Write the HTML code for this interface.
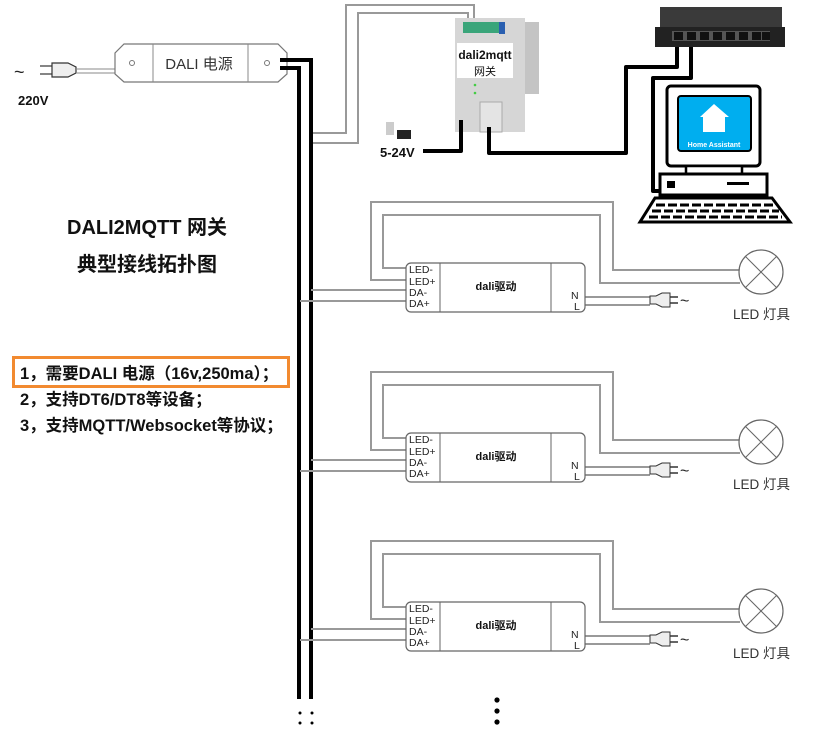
<!DOCTYPE html>
<html><head><meta charset="utf-8"><style>
html,body{margin:0;padding:0;background:#fff;}
svg{display:block;}
text{font-family:"Liberation Sans","Noto Sans CJK SC",sans-serif;}
</style></head><body>
<svg width="815" height="754" viewBox="0 0 815 754" xmlns="http://www.w3.org/2000/svg">
<rect width="815" height="754" fill="#fff"/>
<!-- DALI power supply -->
<text x="14" y="78" font-size="18" fill="#222">~</text>
<g stroke="#333" stroke-width="1.2" fill="#fff">
<line x1="40" y1="66" x2="52" y2="66"/><line x1="40" y1="74" x2="52" y2="74"/>
<path d="M52 63 L68 63 L76 67 L76 73 L68 77 L52 77 Z" fill="#eee"/>
</g>
<line x1="76" y1="69" x2="116" y2="69" stroke="#888" stroke-width="1"/>
<line x1="76" y1="73" x2="116" y2="73" stroke="#888" stroke-width="1"/>
<text x="18" y="105" font-size="13" font-weight="bold" fill="#111">220V</text>
<path d="M124 44 L278 44 L287 53 L287 74 L278 82 L124 82 L115 74 L115 53 Z" fill="#fff" stroke="#777" stroke-width="1.2"/>
<line x1="153" y1="44" x2="153" y2="82" stroke="#888"/>
<line x1="248" y1="44" x2="248" y2="82" stroke="#888"/>
<circle cx="132" cy="63" r="2.5" fill="none" stroke="#777"/>
<circle cx="267" cy="63" r="2.5" fill="none" stroke="#777"/>
<text x="199" y="69" font-size="15" fill="#333" text-anchor="middle">DALI 电源</text>
<!-- bus -->
<path d="M280 60 L311 60 L311 699" fill="none" stroke="#000" stroke-width="4"/>
<path d="M280 68 L299 68 L299 699" fill="none" stroke="#000" stroke-width="4"/>
<g fill="#000"><circle cx="300" cy="713" r="1.5"/><circle cx="300" cy="723" r="1.5"/><circle cx="312" cy="713" r="1.5"/><circle cx="312" cy="723" r="1.5"/>
<circle cx="497" cy="700" r="2.6"/><circle cx="497" cy="711" r="2.6"/><circle cx="497" cy="722" r="2.6"/></g>
<!-- gray lines to gateway -->
<g fill="none" stroke="#999" stroke-width="2">
<path d="M313 133 L346 133 L346 5 L474 5 L474 22"/>
<path d="M313 143 L358 143 L358 13 L468 13 L468 22"/>
</g>
<!-- gateway -->
<rect x="455" y="18" width="70" height="114" fill="#d6d6d6"/>
<rect x="525" y="22" width="14" height="72" fill="#c4c4c4"/>
<rect x="463" y="22" width="36" height="11" fill="#3aa57a"/>
<rect x="499" y="22" width="6" height="12" fill="#2a5fb0"/>
<rect x="457" y="43" width="56" height="35" fill="#fff"/>
<text x="485" y="59" font-size="12" font-weight="bold" text-anchor="middle" fill="#111">dali2mqtt</text>
<text x="485" y="75" font-size="11" text-anchor="middle" fill="#111">网关</text>
<circle cx="475" cy="85" r="1.3" fill="#4c4"/><circle cx="475" cy="93" r="1.3" fill="#4c4"/>
<rect x="480" y="102" width="22" height="30" fill="#e4e4e4" stroke="#aaa"/>
<!-- adapter -->
<rect x="386" y="122" width="8" height="13" fill="#ccc"/>
<rect x="397" y="130" width="14" height="9" fill="#222"/>
<text x="380" y="157" font-size="13" font-weight="bold" fill="#111">5-24V</text>
<!-- black wires -->
<g fill="none" stroke="#000" stroke-width="4" stroke-linejoin="round">
<path d="M461 120 L461 151 L423 151"/>
<path d="M489 127 L489 153 L626 153 L626 67 L677 67 L677 35"/>
<path d="M691 35 L691 78 L653 78 L653 191 L665 191"/>
</g>
<!-- switch -->
<rect x="660" y="7" width="122" height="20" fill="#3a3a3a"/>
<rect x="655" y="27" width="130" height="20" fill="#222"/>
<rect x="672" y="31" width="98" height="10" fill="#555"/>
<g fill="#111"><rect x="674" y="32" width="9" height="8"/><rect x="687" y="32" width="9" height="8"/><rect x="700" y="32" width="9" height="8"/><rect x="713" y="32" width="9" height="8"/><rect x="726" y="32" width="9" height="8"/><rect x="739" y="32" width="9" height="8"/><rect x="752" y="32" width="9" height="8"/><rect x="762" y="32" width="8" height="8"/></g>
<!-- computer -->
<rect x="667" y="86" width="93" height="80" rx="4" fill="#fff" stroke="#000" stroke-width="3"/>
<rect x="678" y="96" width="73" height="55" rx="3" fill="#00aeef" stroke="#000" stroke-width="2"/>
<path d="M700 117 L714 104 L729 117 L725 117 L725 132 L703 132 L703 117 Z" fill="#fff"/>
<text x="714" y="147" font-size="7" font-weight="bold" fill="#fff" text-anchor="middle">Home Assistant</text>
<rect x="686" y="166" width="56" height="8" fill="#fff" stroke="#000" stroke-width="2.5"/>
<rect x="660" y="174" width="107" height="21" fill="#fff" stroke="#000" stroke-width="3"/>
<rect x="667" y="181" width="8" height="7" fill="#000"/><rect x="727" y="182" width="22" height="3" fill="#000"/>
<path d="M655 198 L772 198 L790 222 L640 222 Z" fill="#fff" stroke="#000" stroke-width="3"/>
<g stroke="#000" stroke-width="3" stroke-dasharray="9 3"><line x1="656" y1="205" x2="775" y2="205"/><line x1="652" y1="211" x2="779" y2="211"/><line x1="649" y1="217" x2="782" y2="217"/></g>
<!-- titles -->
<text x="147" y="234" font-size="20" font-weight="bold" text-anchor="middle" fill="#111">DALI2MQTT 网关</text>
<text x="147" y="271" font-size="20" font-weight="bold" text-anchor="middle" fill="#111">典型接线拓扑图</text>
<rect x="13.5" y="357.5" width="275" height="29" fill="none" stroke="#f28a30" stroke-width="3"/>
<text x="20" y="379" font-size="16.5" font-weight="bold" fill="#111">1，需要DALI 电源（16v,250ma）；</text>
<text x="20" y="405" font-size="16.5" font-weight="bold" fill="#111">2，支持DT6/DT8等设备；</text>
<text x="20" y="431" font-size="16.5" font-weight="bold" fill="#111">3，支持MQTT/Websocket等协议；</text>
<!-- driver rows -->
<defs>
<g id="row">
<g fill="none" stroke="#999" stroke-width="2">
<path d="M407 280 L371 280 L371 202 L613 202 L613 270 L740 270"/>
<path d="M407 268 L383 268 L383 215 L600 215 L600 283 L740 283"/>
<path d="M311 290 L407 290"/><path d="M300 301 L407 301"/>
<path d="M585 297 L650 297"/><path d="M585 305 L650 305"/>
</g>
<rect x="406" y="263" width="179" height="49" rx="5" fill="#fff" stroke="#666" stroke-width="1.2"/>
<line x1="440" y1="263" x2="440" y2="312" stroke="#666"/>
<line x1="551" y1="263" x2="551" y2="312" stroke="#666"/>
<g font-size="10.5" fill="#222"><text x="409" y="273">LED-</text><text x="409" y="285">LED+</text><text x="409" y="296">DA-</text><text x="409" y="307">DA+</text>
<text x="571" y="299">N</text><text x="574" y="310">L</text></g>
<text x="496" y="290" font-size="11" font-weight="bold" text-anchor="middle" fill="#111">dali驱动</text>
<path d="M650 296 L656 296 L662 293 L670 293 L670 307 L662 307 L656 304 L650 304 Z" fill="#eee" stroke="#333"/>
<line x1="670" y1="297" x2="678" y2="297" stroke="#333" stroke-width="1.5"/><line x1="670" y1="303" x2="678" y2="303" stroke="#333" stroke-width="1.5"/>
<text x="680" y="306" font-size="16" fill="#222">~</text>
<circle cx="761" cy="272" r="22" fill="#fff" stroke="#666" stroke-width="1.2"/>
<line x1="745" y1="256" x2="777" y2="288" stroke="#666"/><line x1="777" y1="256" x2="745" y2="288" stroke="#666"/>
<text x="733" y="319" font-size="13.5" fill="#333">LED 灯具</text>
</g>
</defs>
<use href="#row"/>
<use href="#row" y="170"/>
<use href="#row" y="339"/>
</svg>
</body></html>
